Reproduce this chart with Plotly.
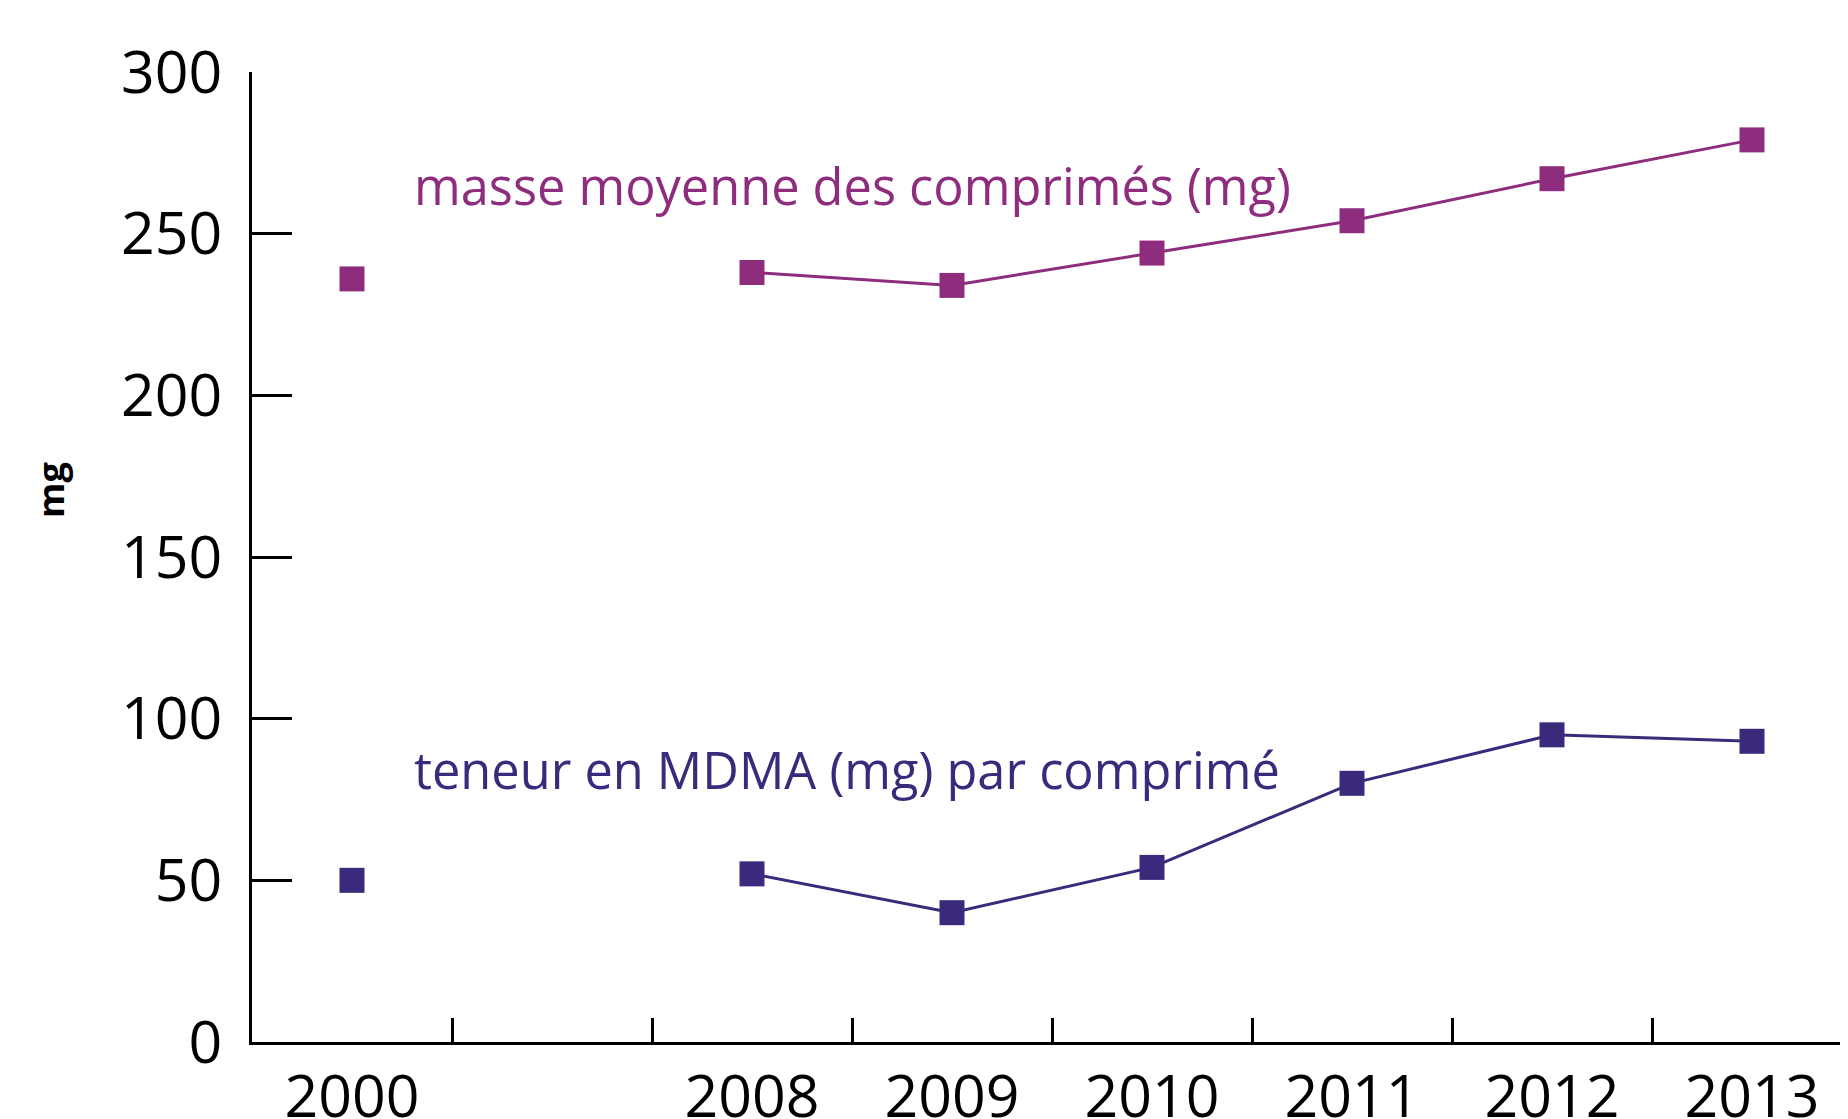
import plotly.graph_objects as go

years = ["2000", " ", "2008", "2009", "2010", "2011", "2012", "2013"]
masse_moyenne = [236, None, 238, 234, 244, 254, 267, 279]
teneur_mdma = [50, None, 52, 40, 54, 80, 95, 93]
y_ticks = [0, 50, 100, 150, 200, 250, 300]

label_masse = "masse moyenne des comprimés (mg)"
label_teneur = "teneur en MDMA (mg) par comprimé"
y_title = "mg"

col_masse = "#8E2C7E"
col_teneur = "#3B2A7C"
FONT = "Open Sans"

fig = go.Figure()
fig.add_trace(go.Scatter(
    x=years, y=masse_moyenne, mode="lines+markers",
    line=dict(color=col_masse, width=3),
    marker=dict(symbol="square", size=25, color=col_masse, line=dict(width=0)),
    connectgaps=False, showlegend=False, cliponaxis=False,
))
fig.add_trace(go.Scatter(
    x=years, y=teneur_mdma, mode="lines+markers",
    line=dict(color=col_teneur, width=3),
    marker=dict(symbol="square", size=25, color=col_teneur, line=dict(width=0)),
    connectgaps=False, showlegend=False, cliponaxis=False,
))

fig.add_annotation(text=label_masse, xref="paper", x=0.0995, xanchor="left",
                   yref="y", y=265, yanchor="middle", showarrow=False,
                   font=dict(family=FONT, size=50.5, color=col_masse))
fig.add_annotation(text=label_teneur, xref="paper", x=0.0995, xanchor="left",
                   yref="y", y=84.4, yanchor="middle", showarrow=False,
                   font=dict(family=FONT, size=50.5, color=col_teneur))
fig.add_annotation(text=y_title, xref="paper", x=-0.126, xanchor="center",
                   yref="paper", y=0.569, yanchor="middle", showarrow=False, textangle=-90,
                   font=dict(family=FONT, size=36, color="black", weight="bold"))

fig.update_layout(
    width=1848, height=1119,
    margin=dict(l=244, r=0, t=64, b=85, autoexpand=False),
    paper_bgcolor="white", plot_bgcolor="white",
    font=dict(family=FONT, color="black"),
    xaxis=dict(
        type="category", categoryorder="array", categoryarray=years,
        range=[-0.5, 7.52], tickson="boundaries", automargin=False,
        ticks="inside", ticklen=24, tickwidth=2.6, tickcolor="black",
        showline=True, linewidth=3, linecolor="black",
        showgrid=False, zeroline=False,
        tickfont=dict(family=FONT, size=59, color="black"),
        ticklabelstandoff=1,
    ),
    yaxis=dict(
        range=[0, 300], tickvals=y_ticks, automargin=False,
        ticks="inside", ticklen=40, tickwidth=3, tickcolor="black",
        showline=True, linewidth=3, linecolor="black",
        showgrid=False, zeroline=False,
        tickfont=dict(family=FONT, size=59, color="black"),
        ticklabelstandoff=15,
    ),
)

fig.write_html("out.html")
